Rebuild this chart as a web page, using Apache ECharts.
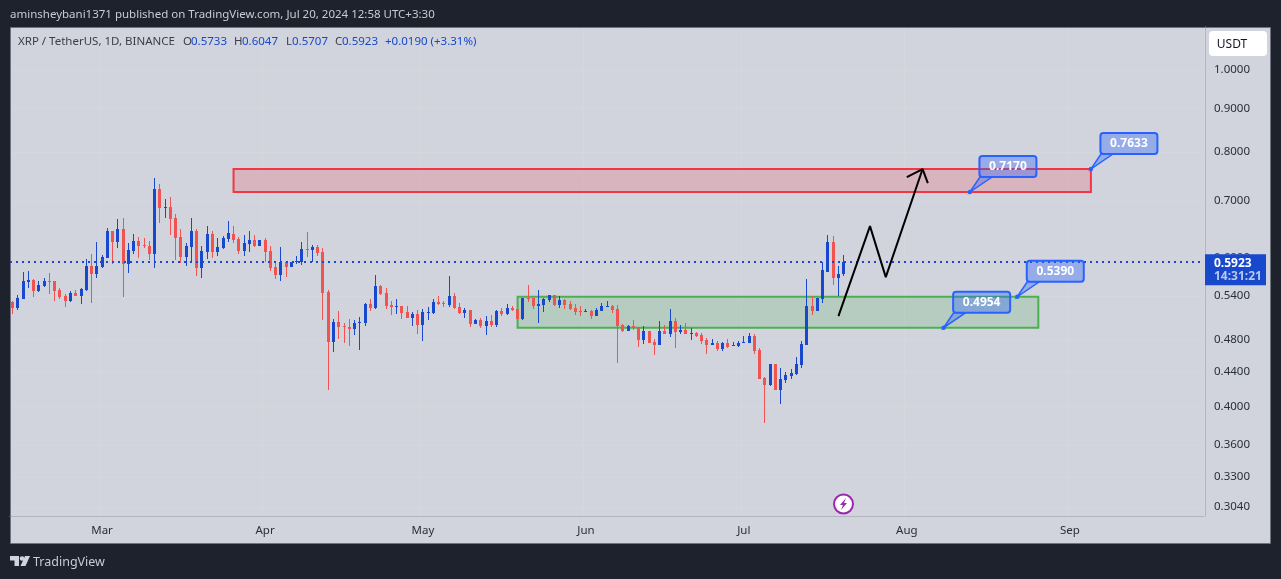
<!DOCTYPE html>
<html>
<head>
<meta charset="utf-8">
<title>XRP / TetherUS</title>
<style>
  html, body { margin: 0; padding: 0; background: #1e222d; }
  #chart { width: 1281px; height: 579px; }
</style>
<script src="https://cdn.jsdelivr.net/npm/echarts@6/dist/echarts.min.js"></script>
</head>
<body>
<div id="chart"></div>
<script>
// daily candles
const opens = [
  .5313,.5227,.5357,.5611,.5641,.5474,.555,.5626,.5626,.5489,
  .5401,.5328,.5445,.5401,.5489,.586,.5734,.5844,.5989,.6446,
  .6256,.6481,.5892,.6105,.6273,.6205,.6188,.6055,.7227,.6863,
  .6881,.6678,.6342,.6005,.6171,.6446,.5828,.6088,.6394,.6088,
  .6155,.6307,.6394,.6307,.6105,.6222,.629,.6188,.629,.6105,
  .5844,.5718,.5924,.5844,.5924,.5924,.6138,.6121,.6171,.6088,
  .5458,.4764,.5031,.4977,.4963,.4936,.5017,.5017,.5283,.5226,
  .5549,.5444,.5268,.524,.5254,.5169,.5086,.5141,.499,.5155,
  .5155,.5311,.5297,.5268,.5399,.524,.5155,.5197,.5004,.5058,
  .4977,.5045,.499,.5183,.5141,.5226,.5211,.5072,.537,.537,
  .5254,.5268,.534,.5414,.5268,.534,.5283,.5226,.5183,.5169,
  .5183,.5114,.5183,.524,.5254,.5211,.499,.4909,.4977,.4963,
  .479,.491,.4764,.4726,.491,.487,.5045,.4897,.4923,.487,
  .4883,.4857,.479,.4726,.4752,.4675,.4752,.4713,.4713,.4752,
  .4752,.4843,.4662,.432,.4238,.4488,.4181,.4296,.4344,.4367,
  .4476,.4726,.5255,.5184,.5356,.5765,.6255,.5671,.5733
];
const closes = [
  .5227,.5372,.5626,.5641,.5474,.5565,.5626,.5611,.5474,.5386,
  .5328,.5445,.5401,.5504,.586,.5734,.586,.6005,.6446,.6256,
  .6481,.5892,.6121,.6273,.6188,.6188,.6055,.7227,.6863,.6881,
  .666,.6325,.6005,.6188,.6446,.5828,.6105,.6394,.6088,.6171,
  .6325,.6411,.629,.6105,.6239,.629,.6188,.629,.6088,.5828,
  .5718,.5924,.5844,.5924,.5935,.6138,.6121,.6171,.6071,.5445,
  .4764,.5031,.4963,.4963,.4936,.5017,.5031,.5283,.5226,.5549,
  .5429,.5254,.524,.5254,.5155,.5086,.5141,.499,.5169,.5169,
  .5311,.5283,.5283,.5399,.5226,.5155,.5197,.5004,.5058,.4977,
  .5045,.499,.5183,.5141,.5226,.5197,.5072,.537,.5355,.5254,
  .5283,.5355,.5414,.5268,.534,.5268,.5211,.5169,.5169,.5183,
  .5114,.5197,.5254,.5254,.5197,.4977,.4909,.4977,.495,.479,
  .491,.4752,.4726,.491,.487,.5045,.4897,.4923,.487,.4883,
  .4843,.4777,.4726,.4752,.4675,.4752,.47,.4726,.4752,.4764,
  .4843,.465,.4308,.4238,.4488,.4181,.4308,.4355,.4379,.4488,
  .4739,.5255,.5184,.5371,.5796,.6255,.5671,.5734,.5923
];
const lows = [
  .5142,.5198,.5357,.5519,.5386,.546,.5535,.543,.5328,.5357,
  .5241,.5313,.5401,.5284,.5474,.5299,.5672,.5828,.5989,.5892,
  .6155,.5386,.5749,.6055,.5989,.6155,.5956,.5828,.6588,.6678,
  .6376,.5956,.5908,.586,.5908,.5703,.5672,.5972,.5989,.6022,
  .6138,.6256,.6239,.6055,.6022,.6088,.6171,.6188,.5924,.578,
  .5657,.5626,.5687,.5844,.5892,.5876,.6005,.5924,.6022,.5059,
  .418,.4636,.4803,.4751,.4713,.4856,.4661,.4977,.5183,.5211,
  .5414,.5211,.5127,.5141,.5072,.5086,.4977,.4868,.4777,.5058,
  .5141,.5268,.524,.524,.5211,.5141,.5086,.4963,.5004,.495,
  .4856,.4963,.4963,.5114,.5127,.5183,.5072,.5058,.5311,.5211,
  .5017,.5169,.5311,.5254,.5226,.5211,.5197,.5127,.5114,.5169,
  .5072,.5114,.5183,.524,.5155,.4499,.4895,.4909,.4922,.47,
  .4739,.4752,.46,.4726,.487,.483,.4688,.487,.487,.479,
  .483,.4739,.4612,.4726,.465,.465,.4688,.4713,.47,.4752,
  .4752,.4612,.4308,.3822,.4227,.4181,.4025,.4261,.4308,.4355,
  .4439,.4726,.5128,.5184,.5298,.5765,.5565,.54,.5707
];
const highs = [
  .5328,.5416,.5765,.578,.5657,.5626,.5672,.5749,.5626,.5519,
  .543,.5474,.5489,.5519,.5972,.6055,.6256,.6038,.6499,.6446,
  .666,.6678,.6239,.6394,.6342,.6325,.6273,.7447,.7326,.7032,
  .7071,.6752,.6481,.6239,.6678,.6481,.6188,.6535,.6446,.6325,
  .6359,.6624,.6535,.6342,.6376,.6446,.6376,.629,.6325,.6188,
  .5908,.6171,.594,.5924,.6022,.6256,.6428,.6205,.6205,.6155,
  .5488,.5072,.5183,.5017,.5072,.5058,.51,.5297,.5355,.5717,
  .5564,.5518,.5326,.5355,.5254,.5254,.5169,.5197,.5211,.524,
  .5355,.5399,.5326,.5701,.5444,.5297,.5226,.5197,.5072,.5086,
  .5114,.5127,.5197,.5226,.5283,.5254,.5211,.537,.5564,.537,
  .5488,.537,.5414,.5414,.5399,.5355,.5326,.5283,.5254,.5211,
  .5197,.5226,.5297,.5326,.5268,.5268,.5004,.499,.5058,.4963,
  .4977,.491,.4803,.5045,.499,.5212,.5086,.499,.5017,.495,
  .4897,.4883,.4817,.4803,.4777,.4764,.4803,.4764,.4777,.4843,
  .4883,.487,.4688,.4332,.4488,.4488,.4439,.4391,.4427,.4575,
  .4777,.5656,.54,.5371,.5924,.6376,.6359,.586,.6047
];

const priceTicks = [1, 0.9, 0.8, 0.7, 0.6, 0.54, 0.48, 0.44, 0.4, 0.36, 0.33, 0.304];
const lastClose = 0.5923;
const countdown = '14:31:21';

// zones: [from date, to date, low, high]
const redZone = ['2024-03-26', '2024-09-05', 0.7170, 0.7633];
const greenZone = ['2024-05-19', '2024-08-26', 0.4954, 0.5390];

// the hand drawn path and its arrow head
const pathDates = ['2024-07-19', '2024-07-25', '2024-07-28', '2024-08-04'];
const pathPrices = [0.5112, 0.6533, 0.5686, 0.7633];
const headDates = ['2024-08-01', '2024-08-04', '2024-08-05'];
const headPrices = [0.7466, 0.7633, 0.7346];

// price notes
const noteDates = ['2024-08-13', '2024-09-05', '2024-08-22', '2024-08-08'];
const notePrices = [0.7170, 0.7633, 0.5390, 0.4954];

const monthNames = { '03': 'Mar', '04': 'Apr', '05': 'May', '06': 'Jun', '07': 'Jul', '08': 'Aug', '09': 'Sep' };

// one slot per calendar day, candles only fill the first ones
const categories = [];
for (let i = 0; i < 227; i++) {
  categories.push(new Date(Date.UTC(2024, 1, 13 + i)).toISOString().slice(0, 10));
}
const isMonthStart = (i, v) => v.slice(8) === '01' && monthNames[v.slice(5, 7)] !== undefined;

const FONT = '"Noto Sans", sans-serif';
const BLUE = '#1848cc';
const RED = '#f05350';
const NOTE = '#2962ff';

const candles = opens.map((o, i) => [categories[i], o, closes[i], lows[i], highs[i]]);

// 3px body and 1px wick on whole pixels, like the original chart
function renderCandle (params, api) {
  const x = api.value(0);
  const open = api.coord([x, api.value(1)]);
  const close = api.coord([x, api.value(2)]);
  const low = api.coord([x, api.value(3)]);
  const high = api.coord([x, api.value(4)]);
  const left = Math.round(open[0] - 0.5);
  const top = Math.round(Math.min(open[1], close[1]));
  const bottom = Math.round(Math.max(open[1], close[1]));
  const color = api.value(2) >= api.value(1) ? BLUE : RED;
  return {
    type: 'group',
    children: [
      { type: 'rect', shape: { x: left, y: Math.round(high[1]), width: 1, height: Math.max(1, Math.round(low[1]) - Math.round(high[1])) }, style: { fill: color } },
      { type: 'rect', shape: { x: left - 1, y: top, width: 3, height: Math.max(1, bottom - top) }, style: { fill: color } }
    ]
  };
}

function renderNote (params, api) {
  const pt = api.coord([api.value(0), api.value(1)]);
  return {
    type: 'group',
    x: pt[0],
    y: pt[1],
    children: [
      { type: 'polygon', shape: { points: [[0, 0], [10, -15], [22, -15]] }, style: { fill: 'rgba(41,98,255,0.35)', stroke: NOTE, lineWidth: 1.5 } },
      { type: 'rect', shape: { x: 9.5, y: -36, width: 57, height: 21, r: 3 }, style: { fill: 'rgba(41,98,255,0.35)', stroke: NOTE, lineWidth: 2 } },
      { type: 'circle', shape: { cx: 0, cy: 0, r: 2.2 }, style: { fill: NOTE } },
      { type: 'text', style: { text: notePrices[params.dataIndex].toFixed(4), x: 38, y: -25.5, fill: '#fff', font: 'bold 12px ' + FONT, align: 'center', verticalAlign: 'middle' } }
    ]
  };
}

function renderPriceTag (params, api) {
  const pt = api.coord([api.value(0), api.value(1)]);
  const left = params.coordSys.x + params.coordSys.width + 1;
  return {
    type: 'group',
    x: left,
    y: pt[1],
    children: [
      { type: 'rect', shape: { x: 0, y: -8, width: 61, height: 31 }, style: { fill: BLUE } },
      { type: 'text', style: { text: lastClose.toFixed(4), x: 9, y: 1, fill: '#fff', font: 'bold 12px ' + FONT, verticalAlign: 'middle' } },
      { type: 'text', style: { text: countdown, x: 9, y: 14, fill: '#b9c8f0', font: 'bold 12px ' + FONT, verticalAlign: 'middle' } }
    ]
  };
}

const myChart = echarts.init(document.getElementById('chart'));

const legendParts = [
  { text: 'XRP / TetherUS, 1D, BINANCE', x: 18, fill: '#3a3e4a' },
  { text: 'O', x: 183, fill: '#3a3e4a' }, { text: opens[158].toFixed(4), x: 191, fill: BLUE },
  { text: 'H', x: 234, fill: '#3a3e4a' }, { text: highs[158].toFixed(4), x: 242, fill: BLUE },
  { text: 'L', x: 286, fill: '#3a3e4a' }, { text: lows[158].toFixed(4), x: 292, fill: BLUE },
  { text: 'C', x: 335, fill: '#3a3e4a' }, { text: closes[158].toFixed(4), x: 342, fill: BLUE },
  { text: '+0.0190 (+3.31%)', x: 385, fill: BLUE }
];

const option = {
  animation: false,
  backgroundColor: '#1e222d',
  textStyle: { fontFamily: FONT },
  grid: { left: 10, right: 77, top: 27, bottom: 63 },
  graphic: [
    { type: 'rect', z: -10, shape: { x: 10.5, y: 27.5, width: 1260, height: 516 }, style: { fill: '#d1d4dc' } },
    { type: 'rect', z: 3, shape: { x: 10.5, y: 27.5, width: 1260, height: 516 }, style: { fill: 'none', stroke: '#70737e', lineWidth: 1 } },
    { type: 'text', z: 10, style: { text: 'aminsheybani1371 published on TradingView.com, Jul 20, 2024 12:58 UTC+3:30', x: 10, y: 15, fill: '#c8cbd3', font: '11.5px ' + FONT, verticalAlign: 'middle' } },
    ...legendParts.map(p => ({ type: 'text', z: 10, style: { text: p.text, x: p.x, y: 42, fill: p.fill, font: '11.5px ' + FONT, verticalAlign: 'middle' } })),
    { type: 'rect', z: 10, shape: { x: 1209, y: 31, width: 58, height: 25, r: 4 }, style: { fill: '#fff' } },
    { type: 'text', z: 11, style: { text: 'USDT', x: 1232, y: 44.5, fill: '#131722', font: '12px ' + FONT, align: 'center', verticalAlign: 'middle' } },
    // lightning event marker
    { type: 'circle', z: 10, shape: { cx: 843.5, cy: 504, r: 9.5 }, style: { fill: '#fff', stroke: '#9c27b0', lineWidth: 2 } },
    { type: 'polygon', z: 11, shape: { points: [[846, 498], [840, 505], [843, 505], [841, 510], [847, 503], [844, 503]] }, style: { fill: '#9c27b0' } },
    // footer logo
    { type: 'polygon', z: 10, shape: { points: [[10, 556], [19, 556], [19, 566], [14.5, 566], [14.5, 560.5], [10, 560.5]] }, style: { fill: '#d1d4dc' } },
    { type: 'circle', z: 10, shape: { cx: 22, cy: 558.5, r: 2.3 }, style: { fill: '#d1d4dc' } },
    { type: 'polygon', z: 10, shape: { points: [[25, 556], [30, 556], [25.5, 566], [20.5, 566]] }, style: { fill: '#d1d4dc' } },
    { type: 'text', z: 10, style: { text: 'TradingView', x: 33, y: 562, fill: '#c8cbd3', font: '12.5px ' + FONT, verticalAlign: 'middle' } }
  ],
  xAxis: {
    type: 'category',
    data: categories,
    boundaryGap: true,
    axisLine: { lineStyle: { color: '#b2b5be' } },
    axisTick: { show: false },
    axisLabel: {
      color: '#2a2e39',
      fontSize: 11.5,
      margin: 9,
      interval: isMonthStart,
      formatter: v => monthNames[v.slice(5, 7)]
    },
    splitLine: { show: true, interval: isMonthStart, lineStyle: { color: '#d5d7df' } }
  },
  yAxis: {
    type: 'log',
    logBase: 10,
    position: 'right',
    offset: 1,
    min: 0.2966,
    max: 1.124,
    axisLine: { show: true, lineStyle: { color: '#b2b5be' } },
    axisTick: { show: false, customValues: priceTicks },
    axisLabel: {
      color: '#2a2e39',
      fontSize: 11.5,
      margin: 9,
      padding: [3, 0, 0, 0],
      customValues: priceTicks,
      formatter: v => Number(v).toFixed(4)
    },
    splitLine: { show: true, lineStyle: { color: '#d5d7df' } }
  },
  series: [
    {
      name: 'XRP',
      type: 'custom',
      renderItem: renderCandle,
      silent: true,
      encode: { x: 0, y: [1, 2, 3, 4] },
      data: candles,
      markArea: {
        silent: true,
        data: [
          [
            { coord: [redZone[0], redZone[3]], itemStyle: { color: 'rgba(242,54,69,0.2)', borderColor: '#f23645', borderWidth: 2 } },
            { coord: [redZone[1], redZone[2]] }
          ],
          [
            { coord: [greenZone[0], greenZone[3]], itemStyle: { color: 'rgba(76,175,80,0.2)', borderColor: '#4caf50', borderWidth: 2 } },
            { coord: [greenZone[1], greenZone[2]] }
          ]
        ]
      },
      markLine: {
        silent: true,
        symbol: 'none',
        precision: 4,
        label: { show: false },
        lineStyle: { color: BLUE, width: 2, type: [2, 4] },
        data: [{ yAxis: lastClose }]
      }
    },
    {
      name: 'path',
      type: 'line',
      data: pathDates.map((d, i) => [d, pathPrices[i]]),
      showSymbol: false,
      silent: true,
      z: 5,
      lineStyle: { color: '#000', width: 2 }
    },
    {
      name: 'head',
      type: 'line',
      data: headDates.map((d, i) => [d, headPrices[i]]),
      showSymbol: false,
      silent: true,
      z: 5,
      lineStyle: { color: '#000', width: 2 }
    },
    {
      name: 'notes',
      type: 'custom',
      clip: false,
      silent: true,
      z: 6,
      renderItem: renderNote,
      data: noteDates.map((d, i) => [d, notePrices[i]])
    },
    {
      name: 'priceTag',
      type: 'custom',
      clip: false,
      silent: true,
      z: 7,
      renderItem: renderPriceTag,
      data: [[categories[158], lastClose]]
    }
  ]
};

myChart.setOption(option);
</script>
</body>
</html>
